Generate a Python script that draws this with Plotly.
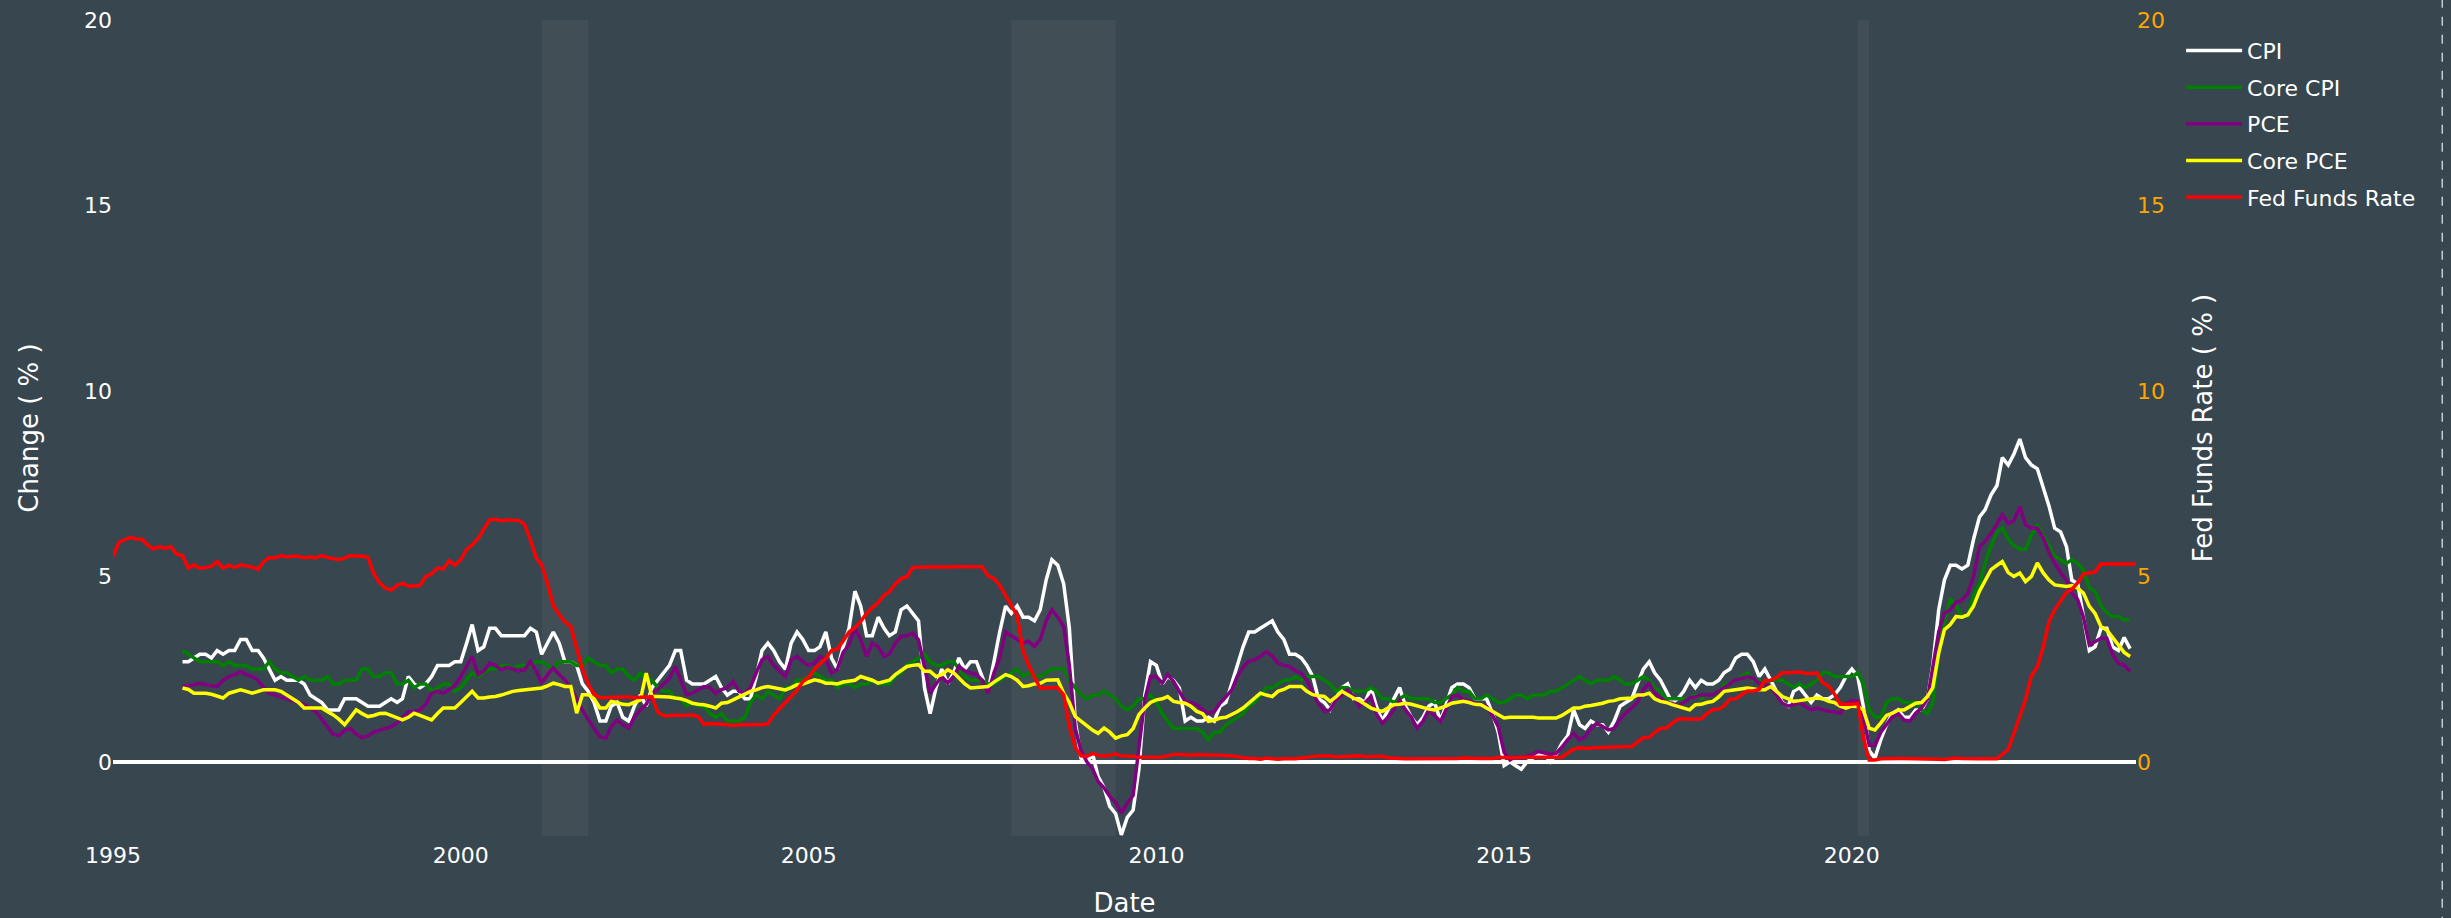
import pandas as pd
import plotly.graph_objects as go

# ---------------- data ----------------
infl_dates = pd.date_range("1996-01-01", "2024-01-01", freq="MS")
ff_dates = pd.date_range("1995-01-01", "2024-02-01", freq="MS")

cpi = [
    2.7, 2.7, 2.8, 2.9, 2.9, 2.8, 3.0, 2.9, 3.0, 3.0, 3.3, 3.3,
    3.0, 3.0, 2.8, 2.5, 2.2, 2.3, 2.2, 2.2, 2.2, 2.1, 1.8, 1.7,
    1.6, 1.4, 1.4, 1.4, 1.7, 1.7, 1.7, 1.6, 1.5, 1.5, 1.5, 1.6,
    1.7, 1.6, 1.7, 2.3, 2.1, 2.0, 2.1, 2.3, 2.6, 2.6, 2.6, 2.7,
    2.7, 3.2, 3.7, 3.0, 3.1, 3.6, 3.6, 3.4, 3.4, 3.4, 3.4, 3.4,
    3.6, 3.5, 2.9, 3.2, 3.5, 3.2, 2.7, 2.7, 2.6, 2.1, 1.9, 1.6,
    1.1, 1.1, 1.5, 1.6, 1.2, 1.1, 1.5, 1.8, 1.5, 2.0, 2.2, 2.4,
    2.6, 3.0, 3.0, 2.2, 2.1, 2.1, 2.1, 2.2, 2.3, 2.0, 1.8, 1.9,
    1.9, 1.7, 1.7, 2.3, 3.0, 3.2, 3.0, 2.7, 2.5, 3.2, 3.5, 3.3,
    3.0, 3.0, 3.1, 3.5, 2.8, 2.5, 3.1, 3.6, 4.6, 4.2, 3.4, 3.4,
    3.9, 3.6, 3.4, 3.5, 4.1, 4.2, 4.0, 3.8, 2.0, 1.3, 2.0, 2.5,
    2.1, 2.4, 2.8, 2.5, 2.7, 2.7, 2.3, 1.9, 2.7, 3.5, 4.2, 4.0,
    4.2, 3.9, 3.9, 3.8, 4.1, 4.9, 5.45, 5.3, 4.8, 3.6, 1.1, 0.1,
    0.0, 0.2, -0.4, -0.7, -1.2, -1.4, -1.97, -1.5, -1.3, -0.2, 1.8, 2.7,
    2.6, 2.1, 2.3, 2.2, 2.0, 1.1, 1.2, 1.1, 1.1, 1.2, 1.1, 1.5,
    1.6, 2.1, 2.6, 3.1, 3.5, 3.5, 3.6, 3.7, 3.8, 3.5, 3.3, 2.9,
    2.9, 2.8, 2.6, 2.3, 1.7, 1.6, 1.4, 1.7, 2.0, 2.1, 1.7, 1.7,
    1.6, 2.0, 1.5, 1.1, 1.4, 1.7, 2.0, 1.5, 1.2, 1.0, 1.2, 1.5,
    1.6, 1.1, 1.5, 2.0, 2.1, 2.1, 2.0, 1.7, 1.7, 1.7, 1.3, 0.8,
    -0.1, 0.0, -0.1, -0.2, 0.0, 0.1, 0.2, 0.2, 0.0, 0.2, 0.5, 0.7,
    1.4, 1.0, 0.9, 1.1, 1.0, 1.0, 0.8, 1.1, 1.5, 1.6, 1.7, 2.1,
    2.5, 2.7, 2.4, 2.2, 1.9, 1.6, 1.7, 1.9, 2.2, 2.0, 2.2, 2.1,
    2.1, 2.2, 2.4, 2.5, 2.8, 2.9, 2.9, 2.7, 2.3, 2.5, 2.2, 1.9,
    1.6, 1.5, 1.9, 2.0, 1.8, 1.6, 1.8, 1.7, 1.7, 1.8, 2.0, 2.3,
    2.5, 2.3, 1.5, 0.3, 0.1, 0.6, 1.0, 1.3, 1.4, 1.2, 1.2, 1.4,
    1.4, 1.7, 2.6, 4.1, 4.9, 5.3, 5.3, 5.2, 5.3, 6.0, 6.6, 6.8,
    7.2, 7.45, 8.2, 8.0, 8.3, 8.7, 8.2, 8.0, 7.9, 7.4, 6.9, 6.3,
    6.2, 5.8, 4.9, 4.8, 3.9, 3.0, 3.1, 3.6, 3.6, 3.1, 3.0, 3.35,
    3.05,
]

core_cpi = [
    3.0, 2.9, 2.8, 2.7, 2.7, 2.7, 2.7, 2.6, 2.7, 2.6, 2.6, 2.6,
    2.5, 2.5, 2.5, 2.7, 2.5, 2.4, 2.4, 2.3, 2.2, 2.3, 2.2, 2.2,
    2.2, 2.3, 2.1, 2.1, 2.2, 2.2, 2.2, 2.5, 2.5, 2.3, 2.3, 2.4,
    2.4, 2.1, 2.1, 2.2, 2.0, 2.1, 2.1, 1.9, 2.0, 2.1, 2.1, 1.9,
    2.0, 2.2, 2.4, 2.3, 2.4, 2.5, 2.5, 2.6, 2.6, 2.5, 2.6, 2.6,
    2.6, 2.7, 2.7, 2.6, 2.5, 2.7, 2.7, 2.7, 2.6, 2.6, 2.8, 2.7,
    2.6, 2.6, 2.4, 2.5, 2.5, 2.3, 2.2, 2.4, 2.2, 2.2, 2.0, 1.9,
    1.9, 1.7, 1.7, 1.5, 1.6, 1.5, 1.5, 1.3, 1.2, 1.3, 1.1, 1.1,
    1.1, 1.2, 1.6, 1.8, 1.7, 1.9, 1.8, 1.7, 2.0, 2.0, 2.2, 2.2,
    2.3, 2.4, 2.3, 2.2, 2.2, 2.0, 2.1, 2.1, 2.0, 2.1, 2.1, 2.2,
    2.1, 2.1, 2.1, 2.3, 2.4, 2.6, 2.7, 2.8, 2.9, 2.7, 2.6, 2.6,
    2.7, 2.7, 2.5, 2.3, 2.2, 2.2, 2.2, 2.1, 2.1, 2.2, 2.3, 2.4,
    2.5, 2.3, 2.4, 2.3, 2.3, 2.4, 2.5, 2.5, 2.5, 2.2, 2.0, 1.8,
    1.7, 1.8, 1.8, 1.9, 1.8, 1.7, 1.5, 1.4, 1.5, 1.7, 1.7, 1.8,
    1.6, 1.3, 1.1, 0.9, 0.9, 0.9, 0.9, 0.9, 0.8, 0.6, 0.8, 0.8,
    1.0, 1.1, 1.2, 1.3, 1.5, 1.6, 1.8, 2.0, 2.0, 2.1, 2.2, 2.2,
    2.3, 2.2, 2.3, 2.3, 2.3, 2.2, 2.1, 1.9, 2.0, 2.0, 1.9, 1.9,
    1.9, 2.0, 1.9, 1.7, 1.7, 1.6, 1.7, 1.8, 1.7, 1.7, 1.7, 1.7,
    1.6, 1.6, 1.7, 1.8, 2.0, 1.9, 1.9, 1.7, 1.7, 1.8, 1.7, 1.6,
    1.6, 1.7, 1.8, 1.8, 1.7, 1.8, 1.8, 1.8, 1.9, 1.9, 2.0, 2.1,
    2.2, 2.3, 2.2, 2.1, 2.2, 2.2, 2.2, 2.3, 2.2, 2.1, 2.1, 2.2,
    2.3, 2.2, 2.0, 1.9, 1.7, 1.7, 1.7, 1.7, 1.7, 1.8, 1.7, 1.8,
    1.8, 1.8, 2.1, 2.1, 2.2, 2.3, 2.4, 2.2, 2.2, 2.1, 2.2, 2.2,
    2.2, 2.1, 2.0, 2.1, 2.0, 2.1, 2.2, 2.4, 2.4, 2.3, 2.3, 2.3,
    2.3, 2.4, 2.1, 1.4, 1.2, 1.2, 1.6, 1.7, 1.7, 1.6, 1.6, 1.6,
    1.4, 1.3, 1.6, 2.96, 3.73, 4.4, 4.21, 3.92, 3.92, 4.5, 4.78, 5.35,
    5.83, 6.2, 6.3, 6.01, 5.83, 5.73, 5.73, 6.11, 6.39, 6.11, 5.83, 5.54,
    5.45, 5.35, 5.45, 5.35, 5.16, 4.69, 4.59, 4.21, 4.02, 3.92, 3.92, 3.83,
    3.83,
]

pce = [
    2.03, 2.05, 2.08, 2.12, 2.08, 2.05, 2.03, 2.2, 2.3, 2.35, 2.43, 2.35,
    2.3, 2.2, 2.0, 1.85, 1.8, 1.75, 1.7, 1.65, 1.6, 1.55, 1.45, 1.35,
    1.15, 0.95, 0.75, 0.7, 0.85, 0.9, 0.75, 0.65, 0.7, 0.8, 0.85, 0.9,
    0.95, 1.05, 1.2, 1.35, 1.35, 1.4, 1.55, 1.85, 1.9, 1.85, 1.95, 2.05,
    2.3, 2.6, 2.84, 2.35, 2.45, 2.66, 2.6, 2.48, 2.55, 2.5, 2.45, 2.48,
    2.7, 2.45, 2.12, 2.35, 2.53, 2.35, 2.21, 2.0, 1.67, 1.4, 1.13, 0.9,
    0.68, 0.64, 0.95, 1.13, 1.0, 0.91, 1.2, 1.4, 1.55, 1.85, 1.95, 2.1,
    2.25, 2.57, 2.2, 1.81, 1.85, 1.95, 2.03, 2.0, 1.85, 1.95, 2.0, 2.17,
    1.9, 1.85, 2.0, 2.4, 2.75, 2.84, 2.6, 2.45, 2.3, 2.75, 2.84, 2.7,
    2.6, 2.66, 2.84, 2.75, 2.39, 2.5, 2.95, 3.15, 3.6, 3.3, 2.84, 3.2,
    3.1, 2.84, 2.9, 3.2, 3.38, 3.4, 3.47, 3.29, 2.5, 1.85, 2.1, 2.3,
    2.12, 2.3, 2.57, 2.45, 2.4, 2.35, 2.2, 1.85, 2.4, 2.8, 3.5, 3.4,
    3.29, 3.2, 3.25, 3.11, 3.3, 3.8, 4.1, 3.9, 3.65, 2.6, 0.9, 0.3,
    0.0, -0.2, -0.53, -0.7, -0.93, -1.1, -1.38, -1.11, -0.9, 0.3, 1.67, 2.3,
    2.3, 2.12, 2.35, 2.17, 1.9, 1.63, 1.6, 1.54, 1.4, 1.31, 1.35, 1.58,
    1.75, 1.94, 2.3, 2.55, 2.71, 2.75, 2.84, 2.97, 2.85, 2.66, 2.6, 2.57,
    2.45, 2.39, 2.2, 1.85, 1.58, 1.36, 1.4, 1.67, 1.8, 1.94, 1.76, 1.49,
    1.6, 1.76, 1.3, 1.04, 1.2, 1.4, 1.67, 1.4, 1.2, 0.91, 1.1, 1.4,
    1.25, 1.09, 1.4, 1.76, 1.8, 1.67, 1.65, 1.58, 1.55, 1.49, 1.25, 0.95,
    0.25, 0.05, 0.14, 0.1, 0.15, 0.2, 0.28, 0.25, 0.2, 0.23, 0.4, 0.6,
    0.77, 0.59, 0.68, 0.9, 1.04, 0.95, 0.86, 0.9, 1.15, 1.31, 1.45, 1.6,
    1.95, 2.12, 1.85, 1.72, 1.6, 1.58, 1.5, 1.6, 1.72, 1.75, 1.8, 1.81,
    1.8, 1.9, 2.0, 2.1, 2.21, 2.25, 2.3, 2.25, 2.12, 2.1, 2.03, 1.8,
    1.58, 1.5, 1.54, 1.6, 1.5, 1.4, 1.45, 1.4, 1.36, 1.35, 1.31, 1.55,
    1.65, 1.63, 1.22, 0.45, 0.45, 0.8, 1.0, 1.22, 1.3, 1.13, 1.1, 1.31,
    1.45, 1.7, 2.55, 3.5, 4.0, 4.1, 4.3, 4.35, 4.55, 5.0, 5.8, 5.95,
    6.15, 6.4, 6.66, 6.43, 6.5, 6.88, 6.39, 6.3, 6.3, 6.05, 5.65, 5.36,
    5.1, 4.9, 4.55, 4.37, 3.9, 3.15, 3.25, 3.33, 3.33, 2.9, 2.65, 2.6,
    2.44,
]

core_pce = [
    1.99, 1.95, 1.85, 1.85, 1.85, 1.82, 1.78, 1.72, 1.85, 1.9, 1.94, 1.9,
    1.85, 1.9, 1.94, 1.94, 1.94, 1.9, 1.8, 1.72, 1.6, 1.45, 1.45, 1.45,
    1.45, 1.35, 1.27, 1.15, 1.0, 1.2, 1.4, 1.3, 1.22, 1.25, 1.3, 1.31,
    1.25, 1.2, 1.13, 1.2, 1.31, 1.25, 1.2, 1.13, 1.3, 1.45, 1.45, 1.45,
    1.6, 1.75, 1.9, 1.72, 1.72, 1.75, 1.76, 1.8, 1.85, 1.9, 1.92, 1.94,
    1.95, 1.97, 1.99, 2.05, 2.12, 2.08, 2.03, 2.03, 1.31, 1.81, 1.81, 1.7,
    1.45, 1.45, 1.63, 1.6, 1.55, 1.54, 1.6, 1.67, 2.39, 1.76, 1.76, 1.76,
    1.75, 1.72, 1.7, 1.65, 1.58, 1.55, 1.54, 1.5, 1.45, 1.58, 1.6, 1.67,
    1.75, 1.85, 1.9, 1.94, 2.0, 2.03, 2.0, 1.95, 1.94, 2.0, 2.08, 2.1,
    2.15, 2.21, 2.18, 2.12, 2.12, 2.1, 2.15, 2.17, 2.2, 2.3, 2.25, 2.2,
    2.12, 2.15, 2.2, 2.35, 2.45, 2.57, 2.6, 2.62, 2.44, 2.44, 2.3, 2.35,
    2.48, 2.4, 2.26, 2.1, 1.99, 2.0, 2.03, 2.03, 2.15, 2.25, 2.35, 2.3,
    2.2, 2.03, 2.05, 2.1, 2.12, 2.2, 2.21, 2.21, 1.85, 1.6, 1.22, 1.1,
    0.95, 0.85, 0.77, 0.91, 0.8, 0.64, 0.7, 0.73, 0.9, 1.27, 1.45, 1.6,
    1.67, 1.7, 1.76, 1.63, 1.6, 1.58, 1.5, 1.36, 1.3, 1.09, 1.12, 1.18,
    1.2, 1.27, 1.35, 1.45, 1.58, 1.7, 1.85, 1.8, 1.76, 1.9, 1.95, 2.03,
    2.03, 2.03, 1.9, 1.81, 1.78, 1.76, 1.63, 1.75, 1.9, 1.8, 1.72, 1.65,
    1.54, 1.45, 1.4, 1.36, 1.45, 1.54, 1.55, 1.58, 1.55, 1.5, 1.45, 1.42,
    1.4, 1.45, 1.5, 1.58, 1.6, 1.63, 1.6, 1.55, 1.54, 1.45, 1.36, 1.25,
    1.18, 1.2, 1.2, 1.22, 1.2, 1.2, 1.18, 1.18, 1.18, 1.18, 1.25, 1.36,
    1.45, 1.45, 1.5, 1.52, 1.54, 1.58, 1.63, 1.65, 1.7, 1.72, 1.72, 1.8,
    1.8, 1.85, 1.7, 1.63, 1.6, 1.54, 1.5, 1.45, 1.4, 1.54, 1.55, 1.6,
    1.63, 1.75, 1.9, 1.92, 1.94, 1.96, 1.99, 1.97, 1.94, 1.94, 2.03, 1.9,
    1.76, 1.7, 1.63, 1.65, 1.67, 1.7, 1.72, 1.7, 1.63, 1.6, 1.5, 1.45,
    1.5, 1.49, 1.4, 0.91, 0.86, 1.05, 1.25, 1.31, 1.4, 1.4, 1.5, 1.58,
    1.6, 1.76, 2.0, 2.93, 3.56, 3.7, 3.92, 3.9, 3.96, 4.2, 4.6, 4.91,
    5.18, 5.3, 5.4, 5.1, 5.0, 5.09, 4.86, 5.0, 5.36, 5.1, 4.9, 4.77,
    4.75, 4.73, 4.75, 4.68, 4.55, 4.19, 4.0, 3.65, 3.55, 3.35, 3.15, 2.95,
    2.84,
]

fed_funds = [
    5.53, 5.92, 5.98, 6.05, 6.01, 6.00, 5.85, 5.74, 5.80, 5.76, 5.80, 5.60,
    5.56, 5.22, 5.31, 5.22, 5.24, 5.27, 5.40, 5.22, 5.30, 5.24, 5.31, 5.29,
    5.25, 5.19, 5.39, 5.51, 5.50, 5.56, 5.52, 5.54, 5.54, 5.50, 5.52, 5.50,
    5.56, 5.51, 5.49, 5.45, 5.49, 5.56, 5.54, 5.55, 5.51, 5.07, 4.83, 4.68,
    4.63, 4.76, 4.81, 4.74, 4.74, 4.76, 4.99, 5.07, 5.22, 5.20, 5.42, 5.30,
    5.45, 5.73, 5.85, 6.02, 6.27, 6.53, 6.54, 6.50, 6.52, 6.51, 6.51, 6.40,
    5.98, 5.49, 5.31, 4.80, 4.21, 3.97, 3.77, 3.65, 3.07, 2.49, 2.09, 1.82,
    1.73, 1.74, 1.73, 1.75, 1.75, 1.75, 1.73, 1.74, 1.75, 1.75, 1.34, 1.24,
    1.24, 1.26, 1.25, 1.26, 1.26, 1.22, 1.01, 1.03, 1.01, 1.01, 1.00, 0.98,
    1.00, 1.01, 1.00, 1.00, 1.00, 1.03, 1.26, 1.43, 1.61, 1.76, 1.93, 2.16,
    2.28, 2.50, 2.63, 2.79, 3.00, 3.04, 3.26, 3.50, 3.62, 3.78, 4.00, 4.16,
    4.29, 4.49, 4.59, 4.79, 4.94, 4.99, 5.24, 5.25, 5.25, 5.25, 5.25, 5.24,
    5.25, 5.26, 5.26, 5.25, 5.25, 5.25, 5.26, 5.02, 4.94, 4.76, 4.49, 4.24,
    3.94, 2.98, 2.61, 2.28, 1.98, 2.00, 2.01, 2.00, 1.81, 0.97, 0.39, 0.16,
    0.15, 0.22, 0.18, 0.15, 0.18, 0.21, 0.16, 0.16, 0.15, 0.12, 0.12, 0.12,
    0.11, 0.13, 0.16, 0.20, 0.20, 0.18, 0.18, 0.19, 0.19, 0.19, 0.19, 0.18,
    0.17, 0.16, 0.14, 0.10, 0.09, 0.09, 0.07, 0.10, 0.08, 0.07, 0.08, 0.07,
    0.08, 0.10, 0.13, 0.14, 0.16, 0.16, 0.16, 0.13, 0.14, 0.16, 0.16, 0.16,
    0.14, 0.15, 0.14, 0.15, 0.11, 0.09, 0.09, 0.08, 0.08, 0.09, 0.08, 0.09,
    0.07, 0.07, 0.08, 0.09, 0.09, 0.10, 0.09, 0.09, 0.09, 0.09, 0.09, 0.12,
    0.11, 0.11, 0.11, 0.12, 0.12, 0.13, 0.13, 0.14, 0.14, 0.12, 0.12, 0.24,
    0.34, 0.38, 0.36, 0.37, 0.37, 0.38, 0.39, 0.40, 0.40, 0.40, 0.41, 0.54,
    0.65, 0.66, 0.79, 0.90, 0.91, 1.04, 1.15, 1.16, 1.15, 1.15, 1.16, 1.30,
    1.41, 1.42, 1.51, 1.69, 1.70, 1.82, 1.91, 1.91, 1.95, 2.19, 2.20, 2.27,
    2.40, 2.40, 2.41, 2.42, 2.39, 2.38, 2.40, 2.13, 2.04, 1.83, 1.55, 1.55,
    1.55, 1.58, 0.65, 0.05, 0.05, 0.08, 0.09, 0.10, 0.09, 0.09, 0.09, 0.09,
    0.09, 0.08, 0.07, 0.07, 0.06, 0.08, 0.10, 0.09, 0.08, 0.08, 0.08, 0.08,
    0.08, 0.08, 0.20, 0.33, 0.77, 1.21, 1.68, 2.33, 2.56, 3.08, 3.78, 4.10,
    4.33, 4.57, 4.65, 4.83, 5.06, 5.08, 5.12, 5.33, 5.33, 5.33, 5.33, 5.33,
    5.33, 5.33,
]

recession_starts = ["2001-03-01", "2007-12-01", "2020-02-01"]
recession_ends = ["2001-11-01", "2009-06-01", "2020-04-01"]

series_names = ["CPI", "Core CPI", "PCE", "Core PCE"]
series_values = [cpi, core_cpi, pce, core_pce]
series_colors = ["white", "green", "purple", "yellow"]

# ---------------- figure ----------------
BG = "#37464f"
FONT = "Verdana, DejaVu Sans, sans-serif"

fig = go.Figure()
for name, vals, color in zip(series_names, series_values, series_colors):
    fig.add_trace(go.Scatter(
        x=infl_dates[:len(vals)], y=vals, name=name, mode="lines",
        line=dict(color=color, width=3.5), legendgroup=name,
    ))
fig.add_trace(go.Scatter(
    x=ff_dates[:len(fed_funds)], y=fed_funds, name="Fed Funds Rate", mode="lines",
    line=dict(color="red", width=3.5), yaxis="y2", legendgroup="ff",
))

for s, e in zip(recession_starts, recession_ends):
    fig.add_vrect(x0=s, x1=e, fillcolor="gray", opacity=0.15,
                  layer="below", line_width=0)

fig.add_shape(type="line", xref="paper", yref="paper",
              x0=1.1514, x1=1.1514, y0=-0.11, y1=1.03,
              line=dict(color="rgba(210,220,230,0.9)", width=1.5, dash="dash"))

fig.update_layout(
    width=2451, height=918,
    paper_bgcolor=BG, plot_bgcolor=BG,
    margin=dict(l=113, r=315, t=20, b=82, autoexpand=False),
    font=dict(family=FONT, size=22, color="white"),
    showlegend=True,
    legend=dict(font=dict(size=22, color="white"), tracegroupgap=5,
                itemwidth=56, bgcolor="rgba(0,0,0,0)",
                x=1.0223, y=0.988, xanchor="left", yanchor="top"),
    xaxis=dict(
        title=dict(text="Date", font=dict(size=26, color="white"), standoff=28),
        automargin=False,
        showgrid=False, zeroline=False, showline=False,
        dtick="M60", tick0="1995-01-01", tickformat="%Y",
        tickfont=dict(size=22, color="white"), ticklabelstandoff=4,
    ),
    yaxis=dict(
        title=dict(text="Change ( % )", font=dict(size=26, color="white"), standoff=37),
        automargin=False,
        range=[-2, 20], dtick=5, showgrid=False,
        zeroline=True, zerolinecolor="white", zerolinewidth=3.5,
        tickfont=dict(size=22, color="white"),
    ),
    yaxis2=dict(
        title=dict(text="Fed Funds Rate ( % )", font=dict(size=26, color="white"), standoff=29),
        automargin=False,
        overlaying="y", side="right", range=[-2, 20], dtick=5,
        showgrid=False, zeroline=False,
        tickfont=dict(size=22, color="orange"),
    ),
)

fig.write_html("out.html", config={"displayModeBar": False},
               post_script="document.body.style.margin='0';document.body.style.background='%s';" % BG)
